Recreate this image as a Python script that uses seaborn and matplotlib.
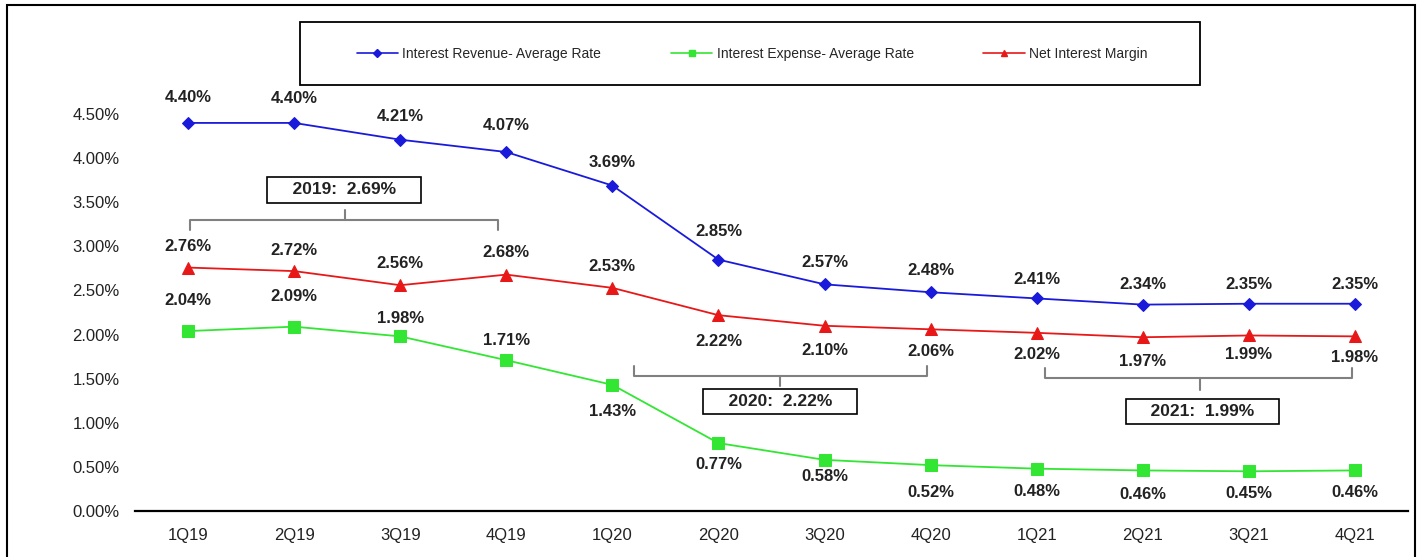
import matplotlib
matplotlib.use("Agg")
import matplotlib.pyplot as plt
import seaborn as sns
import pandas as pd
from matplotlib.patches import Rectangle
from matplotlib.lines import Line2D

quarters = ["1Q19", "2Q19", "3Q19", "4Q19", "1Q20", "2Q20", "3Q20", "4Q20",
            "1Q21", "2Q21", "3Q21", "4Q21"]
revenue = [4.40, 4.40, 4.21, 4.07, 3.69, 2.85, 2.57, 2.48, 2.41, 2.34, 2.35, 2.35]
expense = [2.04, 2.09, 1.98, 1.71, 1.43, 0.77, 0.58, 0.52, 0.48, 0.46, 0.45, 0.46]
nim = [2.76, 2.72, 2.56, 2.68, 2.53, 2.22, 2.10, 2.06, 2.02, 1.97, 1.99, 1.98]
series_names = ["Interest Revenue- Average Rate", "Interest Expense- Average Rate",
                "Net Interest Margin"]
yearly_labels = ["2019:  2.69%", "2020:  2.22%", "2021:  1.99%"]
y_ticks = [0, 0.5, 1.0, 1.5, 2.0, 2.5, 3.0, 3.5, 4.0, 4.5]

sns.set_style("white")
plt.rcParams['font.family'] = ['Liberation Sans', 'DejaVu Sans']

fig = plt.figure(figsize=(14.22, 5.57), dpi=100)
ax = fig.add_axes([135/1422, 1-511/557, 1273/1422, 441/557])

df = pd.DataFrame({"q": quarters, "rev": revenue, "exp": expense, "nim": nim})
x = list(range(len(quarters)))
df["x"] = x

colors = ["#1a1adb", "#33e633", "#e81818"]
markers = ["D", "s", "^"]
msizes = [6, 8, 8]
for col, c, m, ms, name in zip(["rev", "exp", "nim"], colors, markers, msizes, series_names):
    sns.lineplot(data=df, x="x", y=col, ax=ax, color=c, marker=m, markersize=ms,
                 markeredgecolor=c, linewidth=1.3, label=name, legend=False)

# data labels: offsets in pixels (positive = above)
rev_dy = [25, 24, 23, 27, 23, 28, 22, 22, 19, 20, 19, 19]
exp_dy = [31, 30, 18, 20, -27, -21, -17, -27, -23, -24, -22, -22]
nim_dy = [21, 21, 22, 22, 21, -26, -25, -22, -22, -24, -19, -21]
for vals, dys in [(revenue, rev_dy), (expense, exp_dy), (nim, nim_dy)]:
    for xi, v, dy in zip(x, vals, dys):
        ax.annotate(f"{v:.2f}%", (xi, v), xytext=(0, dy * 0.72), textcoords="offset points",
                    ha="center", va="center", fontsize=12, fontweight="bold", color="#222222")

ax.set_xlim(-0.5, 11.5)
ax.set_ylim(0, 5.0)
ax.set_xticks(x)
ax.set_xticklabels(quarters, fontsize=12, color="#222222")
ax.set_yticks(y_ticks)
ax.set_yticklabels([f"{t:.2f}%" for t in y_ticks], fontsize=12, color="#222222")
ax.tick_params(axis="x", length=0, pad=12)
ax.tick_params(axis="y", length=0, pad=11)
ax.set_xlabel("")
ax.set_ylabel("")
for s in ["left", "right", "top"]:
    ax.spines[s].set_visible(False)
ax.spines["bottom"].set_color("black")
ax.spines["bottom"].set_linewidth(1.6)

# brackets
gray = "#808080"
def bracket(x0, x1, xm, yh, yend, ytip):
    ax.plot([x0, x0, x1, x1], [yend, yh, yh, yend], color=gray, lw=1.5, solid_joinstyle="round")
    ax.plot([xm, xm], [yh, ytip], color=gray, lw=1.5)

bracket(0.02, 2.92, 1.48, 3.30, 3.19, 3.41)
bracket(4.2, 6.97, 5.58, 1.53, 1.64, 1.42)
bracket(8.08, 10.97, 9.54, 1.51, 1.62, 1.37)

box = dict(boxstyle="square,pad=0.3", fc="white", ec="black", lw=1.2)
for (bx, by), txt in zip([(1.47, 3.64), (5.58, 1.24), (9.56, 1.13)], yearly_labels):
    ax.text(bx, by, "    " + txt + "    ", ha="center", va="center", fontsize=12.5,
            fontweight="bold", color="#222222", bbox=box)

# legend box
fig.patches.append(Rectangle((300/1422, 1-85/557), 900/1422, 63/557, transform=fig.transFigure,
                             fill=False, ec="black", lw=1.3))
handles = [Line2D([0], [0], color=c, marker=m, markersize=4, lw=1.2) for c, m in zip(colors, markers)]
fig.legend(handles, series_names, loc="center", bbox_to_anchor=(752/1422, 1-54/557), ncol=3,
           frameon=False, fontsize=10, columnspacing=5.0, handlelength=3.0, handletextpad=0.3)

# outer border
fig.patches.append(Rectangle((7/1422, -0.05), 1408/1422, 1.05 - 5/557, transform=fig.transFigure,
                             fill=False, ec="black", lw=1.5))

fig.savefig("out.png", dpi=100)
